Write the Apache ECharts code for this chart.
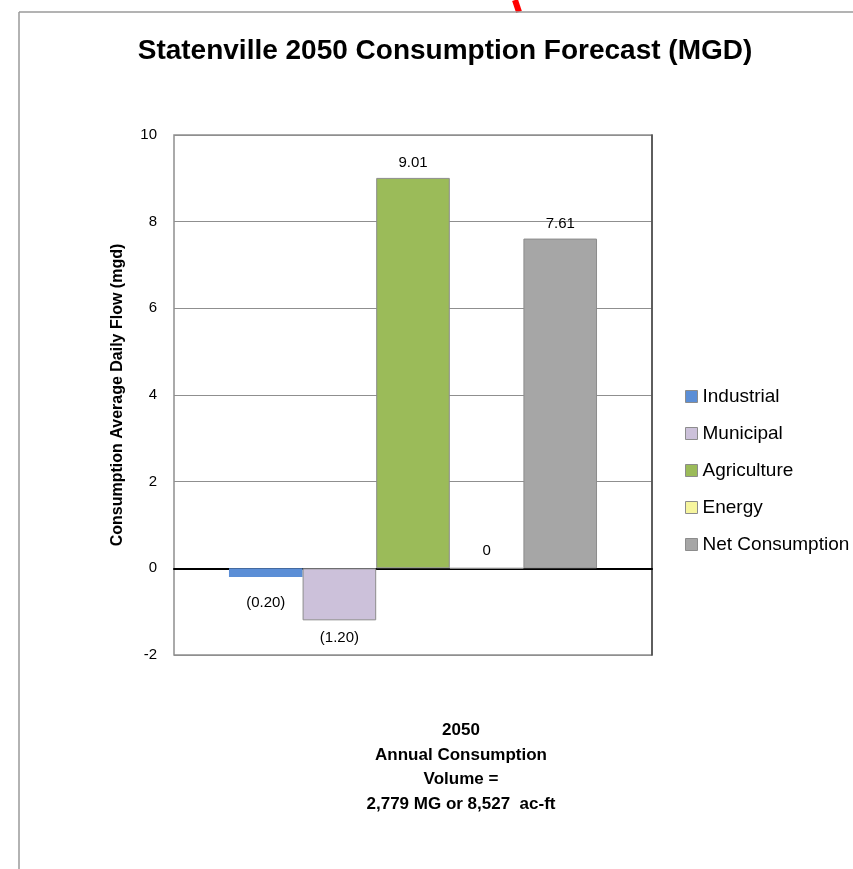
<!DOCTYPE html>
<html>
<head>
<meta charset="utf-8">
<script src="https://cdn.jsdelivr.net/npm/echarts@6/dist/echarts.min.js"></script>
<style>
html,body{margin:0;padding:0;background:#fff;}
#chart{width:853px;height:869px;}
</style>
</head>
<body>
<div id="chart"></div>
<script>
const categories = ['2050'];
const seriesNames = ['Industrial', 'Municipal', 'Agriculture', 'Energy', 'Net Consumption'];
const seriesValues = [-0.20, -1.20, 9.01, 0, 7.61];
const seriesColors = ['#5B8ED6', '#CCC1DA', '#9BBB59', '#F6F59E', '#A6A6A6'];
const yTicks = { min: -2, max: 10, interval: 2 };
const titleText = 'Statenville 2050 Consumption Forecast (MGD)';
const yAxisTitle = 'Consumption Average Daily Flow (mgd)';
const footerLines = ['2050', 'Annual Consumption', 'Volume =', '2,779 MG or 8,527  ac-ft'];

const FONT = '"Liberation Sans", Arial, sans-serif';
const labelDist = [18, 10, 8, 9, 7];

function fmt(v) {
  if (v === 0) return '0';
  if (v < 0) return '(' + Math.abs(v).toFixed(2) + ')';
  return v.toFixed(2);
}

const series = seriesNames.map((name, i) => ({
  name: name,
  type: 'bar',
  data: [seriesValues[i]],
  barGap: '0%',
  barCategoryGap: '23%',
  itemStyle: {
    color: seriesColors[i],
    borderColor: i === 0 ? seriesColors[i] : '#8C8C8C',
    borderWidth: i === 0 ? 0 : 1
  },
  label: {
    show: true,
    position: seriesValues[i] < 0 ? 'bottom' : 'top',
    distance: labelDist[i],
    formatter: p => fmt(p.value),
    color: '#000',
    fontFamily: FONT,
    fontSize: 15
  },
  emphasis: { disabled: true }
}));

const chart = echarts.init(document.getElementById('chart'), null, { renderer: 'canvas' });
chart.setOption({
  backgroundColor: '#fff',
  animation: false,
  title: {
    text: titleText,
    left: 440,
    top: 46,
    textAlign: 'center',
    textVerticalAlign: 'middle',
    textStyle: { fontFamily: FONT, fontWeight: 'bold', fontSize: 28, color: '#000' }
  },
  legend: {
    orient: 'vertical',
    left: 680,
    top: 382,
    itemWidth: 12,
    itemHeight: 12,
    itemGap: 18,
    icon: 'rect',
    data: seriesNames.map((n, i) => ({
      name: n,
      itemStyle: { color: seriesColors[i], borderColor: '#8C8C8C', borderWidth: 1 }
    })),
    textStyle: { fontFamily: FONT, fontSize: 19, color: '#000', lineHeight: 19 },
    selectedMode: false
  },
  grid: {
    left: 174, right: 201, top: 135, bottom: 214,
    show: true, borderColor: '#8F8F8F', borderWidth: 1.5, backgroundColor: 'transparent'
  },
  xAxis: {
    type: 'category',
    data: categories,
    axisLine: { show: true, onZero: true, lineStyle: { color: '#000', width: 2 } },
    axisTick: { show: false },
    axisLabel: { show: false }
  },
  yAxis: [{
    type: 'value',
    min: yTicks.min, max: yTicks.max, interval: yTicks.interval,
    name: yAxisTitle,
    nameLocation: 'middle',
    nameGap: 48,
    nameTextStyle: { fontFamily: FONT, fontWeight: 'bold', fontSize: 16, color: '#000' },
    axisLine: { show: false },
    axisTick: { show: false },
    axisLabel: { fontFamily: FONT, fontSize: 15, color: '#000', margin: 17 },
    splitLine: { show: true, lineStyle: { color: '#8F8F8F', width: 1 } }
  }, {
    type: 'value',
    position: 'right',
    min: yTicks.min, max: yTicks.max, interval: yTicks.interval,
    axisLine: { show: true, lineStyle: { color: '#444', width: 1.5 } },
    axisTick: { show: false },
    axisLabel: { show: false },
    splitLine: { show: false }
  }],
  series: series,
  graphic: [
    { type: 'line', z: 1, shape: { x1: 515, y1: 0, x2: 519, y2: 12 }, style: { stroke: '#FF0000', lineWidth: 6 } },
    { type: 'line', z: 2, shape: { x1: 19, y1: 12, x2: 853, y2: 12 }, style: { stroke: '#9A9A9A', lineWidth: 1.5 } },
    { type: 'line', z: 2, shape: { x1: 19, y1: 12, x2: 19, y2: 869 }, style: { stroke: '#9A9A9A', lineWidth: 1.5 } },
    {
      type: 'text', z: 3, x: 461, y: 767.5,
      style: {
        text: footerLines.join('\n'),
        fontFamily: FONT, fontWeight: 'bold', fontSize: 17, lineHeight: 24.5,
        fill: '#000', textAlign: 'center', textVerticalAlign: 'middle'
      }
    }
  ]
});
</script>
</body>
</html>
